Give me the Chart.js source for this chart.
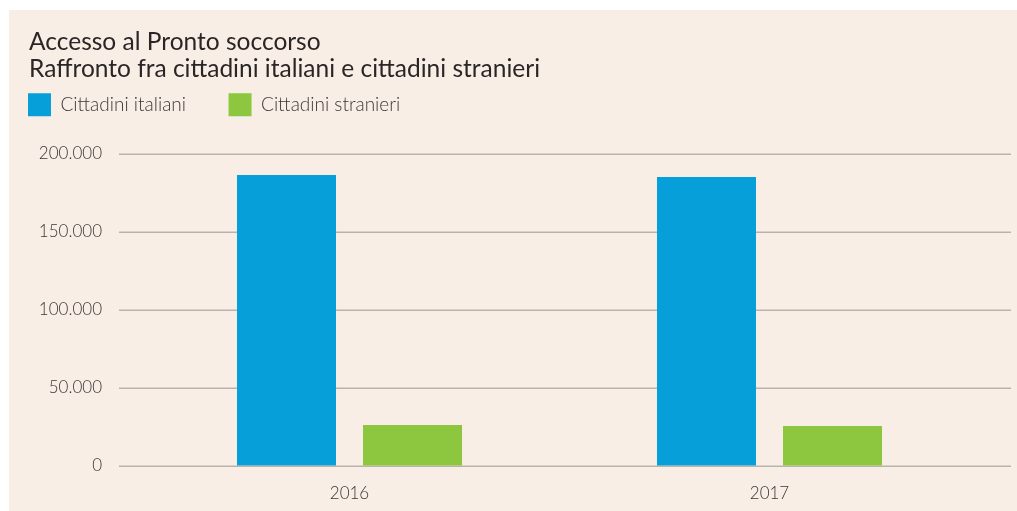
<!DOCTYPE html>
<html>
<head>
<meta charset="utf-8">
<script src="https://cdn.jsdelivr.net/npm/chart.js@4.4.1/dist/chart.umd.min.js"></script>
<style>
  html, body { margin: 0; padding: 0; background: #fff; }
  #wrap { position: absolute; left: 9px; top: 10px; width: 1008px; height: 501px; background: #f9eee6; }
</style>
</head>
<body>
<div id="wrap"><canvas id="chart"></canvas></div>
<script>
// data
const years = ["2016", "2017"];
const italiani = [186500, 185300];
const stranieri = [26300, 25600];
const yTicks = [0, 50000, 100000, 150000, 200000];

const titleLines = ["Accesso al Pronto soccorso", "Raffronto fra cittadini italiani e cittadini stranieri"];
const seriesNames = ["Cittadini italiani", "Cittadini stranieri"];

const FONT = "Lato";
const textColor = "#3a3636";

function fmt(v) {
  return String(v).replace(/\B(?=(\d{3})+(?!\d))/g, ".");
}

// horizontal rules run a bit wider than the plot area
const wideGrid = {
  id: "wideGrid",
  beforeDatasetsDraw(chart) {
    const { ctx, chartArea, scales } = chart;
    ctx.save();
    ctx.strokeStyle = "#b9b3ae";
    ctx.lineWidth = 1.5;
    yTicks.forEach((v) => {
      const y = Math.round(scales.y.getPixelForValue(v)) + 0.25;
      ctx.beginPath();
      ctx.moveTo(chartArea.left - 20.5, y);
      ctx.lineTo(chartArea.right + 31.5, y);
      ctx.stroke();
    });
    ctx.restore();
  },
};

// tighten the legend box and pull its items to the left edge
const legendTweak = {
  id: "legendTweak",
  beforeInit(chart) {
    const fit = chart.legend.fit;
    chart.legend.fit = function () {
      fit.bind(chart.legend)();
      this.height -= 5.9;
    };
  },
  afterLayout(chart) {
    chart.legend.left -= 43.5;
    chart.legend.right -= 43.5;
    chart.legend.top -= 33.7;
    chart.legend.bottom -= 33.7;
  },
};

const ctx = document.getElementById("chart").getContext("2d");
const chart = new Chart(ctx, {
  type: "bar",
  data: {
    labels: years,
    datasets: [
      { label: seriesNames[0], data: italiani, backgroundColor: "#079fda", borderWidth: 0 },
      { label: seriesNames[1], data: stranieri, backgroundColor: "#8dc63f", borderWidth: 0 },
    ],
  },
  options: {
    responsive: true,
    maintainAspectRatio: false,
    animation: false,
    devicePixelRatio: 1,
    layout: { padding: { left: 20, right: 37.5, top: 0, bottom: 9 } },
    datasets: {
      bar: { categoryPercentage: 0.6, barPercentage: 0.786 },
    },
    plugins: {
      tooltip: { enabled: false },
      title: {
        display: true,
        text: titleLines,
        align: "start",
        color: "#2a2626",
        font: { family: FONT, size: 24.5, weight: "400", lineHeight: 1.1 },
        padding: { top: 18.5, bottom: 2 },
      },
      legend: {
        display: true,
        align: "start",
        labels: {
          boxWidth: 23,
          boxHeight: 23,
          padding: 42.5,
          color: textColor,
          font: { family: FONT, size: 19, weight: "300" },
        },
      },
    },
    scales: {
      x: {
        afterFit(scale) {
          scale.height = 36;
        },
        grid: { display: false },
        border: { display: false },
        ticks: { color: textColor, padding: 9, font: { family: FONT, size: 17, weight: "300" } },
      },
      y: {
        min: 0,
        max: 200000,
        afterBuildTicks(scale) {
          scale.ticks = yTicks.map((v) => ({ value: v }));
        },
        afterFit(scale) {
          scale.width = 110.5;
        },
        // invisible tick marks keep the labels away from the plot
        grid: { display: true, drawOnChartArea: false, drawTicks: true, tickLength: 17.5, color: "transparent" },
        border: { display: false },
        ticks: {
          color: textColor,
          padding: 20,
          font: { family: FONT, size: 17, weight: "300" },
          callback: (v) => fmt(v),
        },
      },
    },
  },
  plugins: [wideGrid, legendTweak],
});
</script>
</body>
</html>
